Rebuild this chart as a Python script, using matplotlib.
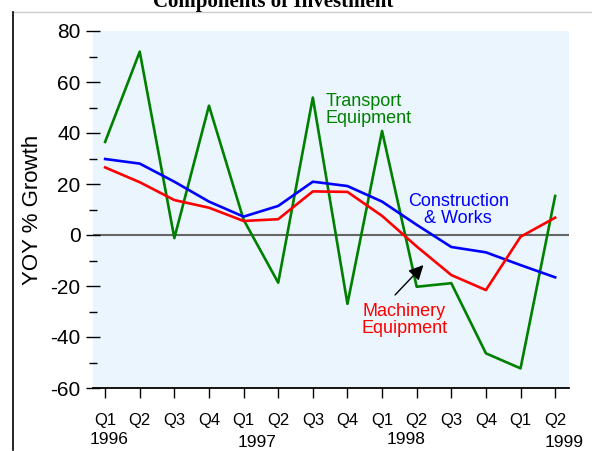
import matplotlib
matplotlib.use("Agg")
import matplotlib.pyplot as plt
from matplotlib.lines import Line2D
import numpy as np

plt.rcParams["font.family"] = ["Liberation Sans", "DejaVu Sans"]
plt.rcParams["axes.unicode_minus"] = False

# data: YoY % growth, Q1 1996 .. Q2 1999
quarters = ["Q1", "Q2", "Q3", "Q4", "Q1", "Q2", "Q3", "Q4",
            "Q1", "Q2", "Q3", "Q4", "Q1", "Q2"]
years = ["1996", "1997", "1998", "1999"]
transport = [36.5, 71.9, -1.2, 50.7, 6.0, -18.7, 53.9, -27.0,
             40.8, -20.3, -18.9, -46.4, -52.3, 15.3]
construction = [29.8, 28.0, 20.9, 13.1, 7.2, 11.4, 20.9, 19.2,
                13.1, 4.0, -4.7, -6.8, -11.8, -16.6]
machinery = [26.5, 20.7, 13.7, 10.7, 5.5, 6.2, 17.1, 16.9,
             7.5, -4.5, -15.7, -21.6, -0.7, 6.8]

GREEN = "#008000"
BLUE = "#0000ff"
RED = "#ff0000"

fig = plt.figure(figsize=(5.92, 4.51), dpi=100)
ax = fig.add_axes([93 / 592, 1 - 388 / 451, (569 - 93) / 592, (388 - 31) / 451])
ax.set_facecolor("#ebf5fd")

x = np.arange(len(quarters))
ax.axhline(0, color="#666666", lw=1.5, zorder=1)
ax.plot(x, transport, color=GREEN, lw=1.9, zorder=3)
ax.plot(x, construction, color=BLUE, lw=1.9, zorder=3)
ax.plot(x, machinery, color=RED, lw=1.9, zorder=3)

ax.set_xlim(-0.35, 13.4)
ax.set_ylim(-60, 80)

# axes styling
for s in ["left", "top", "right"]:
    ax.spines[s].set_visible(False)
ax.spines["bottom"].set_color("black")
ax.spines["bottom"].set_linewidth(1.3)

ax.set_yticks(np.arange(-60, 81, 20))
ax.set_yticks(np.arange(-50, 80, 20), minor=True)
ax.tick_params(axis="y", which="major", direction="inout", length=10, width=1,
               pad=4, labelsize=15)
ax.tick_params(axis="y", which="minor", direction="inout", length=6, width=1)
ax.set_xticks(x)
ax.set_xticklabels(quarters)
ax.tick_params(axis="x", length=7, width=1, pad=11, labelsize=12)

ax.set_ylabel("YOY % Growth", fontsize=16)
ax.yaxis.set_label_coords(-0.105, 0.5)

# year labels under the quarters
year_x = [0.1, 4.4, 8.7, 13.27]
year_y = [-0.144, -0.154, -0.144, -0.154]
for xx, yy, t in zip(year_x, year_y, years):
    ax.text(xx, yy, t, transform=ax.get_xaxis_transform(), ha="center",
            va="center", fontsize=12.5, clip_on=False)

# series labels
ax.text(6.36, 55.7, "Transport\nEquipment", color=GREEN, fontsize=13,
        ha="left", va="top", linespacing=1.0)
ax.text(10.2, 16.5, "Construction\n& Works", color=BLUE, fontsize=13,
        ha="center", va="top", linespacing=1.0)
ax.text(8.64, -26.7, "Machinery\nEquipment", color=RED, fontsize=13,
        ha="center", va="top", linespacing=1.0)
ax.annotate("", xy=(9.25, -11), xytext=(8.32, -24.3),
            arrowprops=dict(arrowstyle="-|>", color="black", lw=1,
                            mutation_scale=22))

# title (clipped at the top of the image) and frame lines
fig.text(273 / 592, 1 - 7 / 451, "Components of Investment", ha="center",
         va="baseline", fontsize=15, fontweight="bold",
         family=["Liberation Serif", "DejaVu Serif"])
fig.add_artist(Line2D([12 / 592, 1], [1 - 12 / 451] * 2, color="#cccccc", lw=1))
fig.add_artist(Line2D([12.5 / 592] * 2, [1 - 12 / 451, 0.002], color="black", lw=1.2))

fig.savefig("out.png", dpi=100)
